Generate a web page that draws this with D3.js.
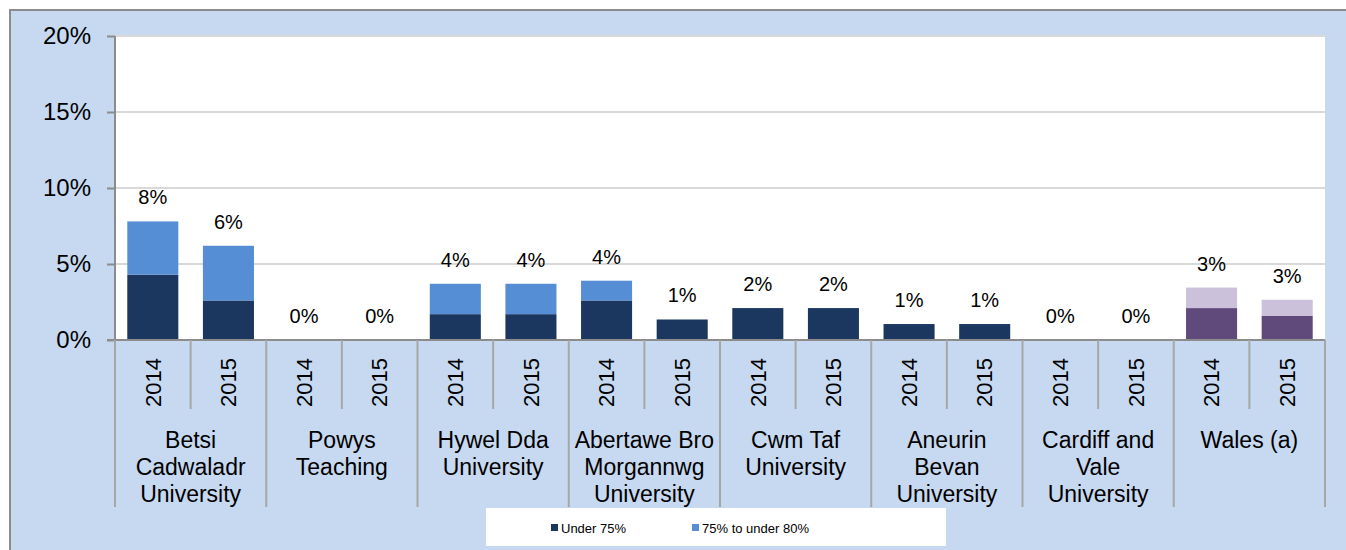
<!DOCTYPE html>
<meta charset="utf-8">
<style>
body { margin: 0; background: #fff; font-family: "Liberation Sans", Arial, sans-serif; }
svg text { font-family: "Liberation Sans", Arial, sans-serif; fill: #000; }
.grid line { stroke: #d9d9d9; stroke-width: 2px; }
.yaxis path, .yaxis line { stroke: #8c8c8c; stroke-width: 2px; }
.yaxis text { font-size: 24px; }
.sep { stroke: #a6a6a6; stroke-width: 2px; }
.lbl { font-size: 20px; text-anchor: middle; }
.year { font-size: 22px; }
.board { font-size: 23px; text-anchor: middle; }
.legend text { font-size: 13px; }
</style>
<body>
<div id="chart"></div>
<script src="https://cdn.jsdelivr.net/npm/d3@7"></script>
<script>
// health boards, two years each; last board is the all-Wales figure
var boards = [
  ["Betsi", "Cadwaladr", "University"],
  ["Powys", "Teaching"],
  ["Hywel Dda", "University"],
  ["Abertawe Bro", "Morgannwg", "University"],
  ["Cwm Taf", "University"],
  ["Aneurin", "Bevan", "University"],
  ["Cardiff and", "Vale", "University"],
  ["Wales (a)"]
];
var years = ["2014", "2015"];
// percent values, in board/year order
var under75 = [4.3, 2.6, 0, 0, 1.7, 1.7, 2.6, 1.35, 2.1, 2.1, 1.05, 1.05, 0, 0, 2.1, 1.6];
var to80    = [3.5, 3.6, 0, 0, 2.0, 2.0, 1.3, 0,    0,   0,   0,    0,    0, 0, 1.35, 1.05];
var yTicks = [0, 5, 10, 15, 20];
var seriesNames = ["Under 75%", "75% to under 80%"];

var W = 1346, H = 550;
var plotL = 115, plotR = 1325, plotT = 36, plotB = 340;

var bars = [];
boards.forEach(function(b, i) {
  years.forEach(function(y, j) {
    var k = i * years.length + j;
    bars.push({key: k, board: i, year: y, a: under75[k], b: to80[k], wales: i == boards.length - 1});
  });
});

var svg = d3.select("#chart").append("svg")
    .attr("width", W)
    .attr("height", H);

// outer chart area
svg.append("rect")
    .attr("x", 10).attr("y", 10)
    .attr("width", W).attr("height", H)
    .attr("fill", "#c6d9f0")
    .attr("stroke", "#8c8c8c")
    .attr("stroke-width", 2);

svg.append("rect")
    .attr("x", plotL).attr("y", plotT)
    .attr("width", plotR - plotL).attr("height", plotB - plotT)
    .attr("fill", "#fff");

var x = d3.scaleBand()
    .domain(bars.map(function(d) { return d.key; }))
    .range([plotL, plotR])
    .paddingInner(0.325)
    .paddingOuter(0.1625);

var y = d3.scaleLinear().domain([0, 20]).range([plotB, plotT]);

// gridlines
svg.append("g").attr("class", "grid")
  .selectAll("line").data(yTicks.slice(1)).enter().append("line")
    .attr("x1", plotL).attr("x2", plotR)
    .attr("y1", function(d) { return y(d); })
    .attr("y2", function(d) { return y(d); });

// bars
var g = svg.append("g").selectAll("g").data(bars).enter().append("g");
g.append("rect")
    .attr("x", function(d) { return x(d.key); })
    .attr("width", x.bandwidth())
    .attr("y", function(d) { return y(d.a); })
    .attr("height", function(d) { return y(0) - y(d.a); })
    .attr("fill", function(d) { return d.wales ? "#604a7b" : "#1b375f"; });
g.append("rect")
    .attr("x", function(d) { return x(d.key); })
    .attr("width", x.bandwidth())
    .attr("y", function(d) { return y(d.a + d.b); })
    .attr("height", function(d) { return y(d.a) - y(d.a + d.b); })
    .attr("fill", function(d) { return d.wales ? "#ccc1da" : "#558ed5"; });
g.append("text")
    .attr("class", "lbl")
    .attr("x", function(d) { return x(d.key) + x.bandwidth() / 2; })
    .attr("y", function(d) { return y(d.a + d.b) - 17; })
    .text(function(d) { return Math.round(d.a + d.b) + "%"; });

// y axis
var yAxis = svg.append("g")
    .attr("class", "yaxis")
    .attr("transform", "translate(" + plotL + ",0)")
    .call(d3.axisLeft(y).tickValues(yTicks).tickSize(8).tickPadding(16)
      .tickFormat(function(d) { return d + "%"; }));
yAxis.select(".domain").attr("d", "M0," + plotT + "V" + plotB);

// x axis line
svg.append("line")
    .attr("x1", plotL - 8).attr("x2", plotR)
    .attr("y1", plotB).attr("y2", plotB)
    .attr("stroke", "#8c8c8c").attr("stroke-width", 2);

// separators between years and between boards
var step = x.step();
d3.range(bars.length + 1).forEach(function(i) {
  var xx = plotL + i * step;
  svg.append("line").attr("class", "sep")
      .attr("x1", xx).attr("x2", xx)
      .attr("y1", plotB)
      .attr("y2", i % years.length == 0 ? 507 : 409);
});

// year labels
svg.append("g").selectAll("text").data(bars).enter().append("text")
    .attr("class", "year")
    .attr("text-anchor", "end")
    .attr("dy", "0.35em")
    .attr("transform", function(d) {
      return "translate(" + (x(d.key) + x.bandwidth() / 2) + ",358)rotate(-90)";
    })
    .text(function(d) { return d.year; });

// board labels
var bl = svg.append("g").selectAll("text").data(boards).enter().append("text")
    .attr("class", "board")
    .attr("x", function(d, i) { return plotL + (i + 0.5) * step * years.length; })
    .attr("y", 448);
bl.selectAll("tspan").data(function(d) { return d; }).enter().append("tspan")
    .attr("x", function() { return d3.select(this.parentNode).attr("x"); })
    .attr("dy", function(d, i) { return i == 0 ? 0 : 27; })
    .text(function(d) { return d; });

// legend
var lg = svg.append("g").attr("class", "legend");
lg.append("rect")
    .attr("x", 486).attr("y", 508)
    .attr("width", 460).attr("height", 38)
    .attr("fill", "#fff");
var legendX = [551, 692], legendCol = ["#1b375f", "#558ed5"];
seriesNames.forEach(function(s, i) {
  lg.append("rect")
      .attr("x", legendX[i]).attr("y", 524)
      .attr("width", 7).attr("height", 7)
      .attr("fill", legendCol[i]);
  lg.append("text")
      .attr("x", legendX[i] + 10).attr("y", 533)
      .text(s);
});
</script>
</body>
